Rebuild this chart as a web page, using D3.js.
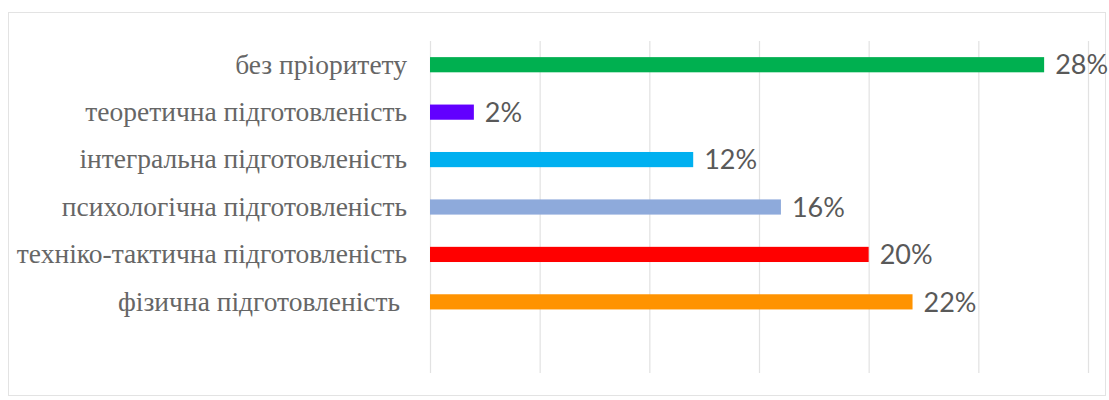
<!DOCTYPE html>
<html>
<head>
<meta charset="utf-8">
<script src="https://cdn.jsdelivr.net/npm/d3@7"></script>
<style>
  html, body { margin: 0; padding: 0; background: #fff; }
  .cat { font-family: "Liberation Serif", "Times New Roman", "DejaVu Serif", serif; }
  .val { font-family: Lato, "Open Sans", sans-serif; }
</style>
</head>
<body>
<svg></svg>
<script>
// categories top to bottom; the last one is an empty slot Excel left at the bottom
const categories = [
    "без пріоритету",
    "теоретична підготовленість",
    "інтегральна підготовленість",
    "психологічна підготовленість",
    "техніко-тактична підготовленість",
    "фізична підготовленість ",
    ""
];
const values = [28, 2, 12, 16, 20, 22, null];
const colors = ["#00b050", "#6200ff", "#00b0f0", "#8eaadb", "#ff0000", "#ff9300", "none"];
const xTicks = [0, 5, 10, 15, 20, 25, 30];

const width = 1109;
const height = 400;

const svg = d3.select("svg")
    .attr("width", width)
    .attr("height", height);

// chart frame
svg.append("rect")
    .attr("x", 8.5)
    .attr("y", 12.5)
    .attr("width", 1097)
    .attr("height", 383)
    .attr("fill", "#fff")
    .attr("stroke", "#e3e3e3");

const xScale = d3.scaleLinear()
    .domain([0, 30])
    .range([430, 1088]);

const yScale = d3.scaleBand()
    .domain(d3.range(categories.length))
    .range([41, 373])
    .paddingInner(0.68)
    .paddingOuter(0.34);

// vertical gridlines
svg.append("g")
    .selectAll("line")
    .data(xTicks)
    .enter()
    .append("line")
    .attr("x1", d => xScale(d) + 0.5)
    .attr("x2", d => xScale(d) + 0.5)
    .attr("y1", 41)
    .attr("y2", 373)
    .attr("stroke", "#e2e2e2")
    .attr("stroke-width", 1.2);

const rows = categories.map((c, i) => ({ name: c, value: values[i], color: colors[i], i }))
    .filter(d => d.value !== null);

svg.selectAll(".bar")
    .data(rows)
    .enter()
    .append("rect")
    .attr("class", "bar")
    .attr("x", xScale(0))
    .attr("y", d => yScale(d.i))
    .attr("width", d => xScale(d.value) - xScale(0))
    .attr("height", yScale.bandwidth())
    .attr("fill", d => d.color);

// category labels (serif, right aligned to the axis)
svg.selectAll(".cat")
    .data(rows)
    .enter()
    .append("text")
    .attr("class", "cat")
    .attr("x", 407)
    .attr("y", d => yScale(d.i) + yScale.bandwidth() / 2)
    .attr("dy", "0.32em")
    .attr("text-anchor", "end")
    .attr("font-size", 27.5)
    .attr("fill", "#666")
    .style("white-space", "pre")
    .text(d => d.name);

// value labels
svg.selectAll(".val")
    .data(rows)
    .enter()
    .append("text")
    .attr("class", "val")
    .attr("x", d => xScale(d.value) + 11)
    .attr("y", d => yScale(d.i) + yScale.bandwidth() / 2)
    .attr("dy", "0.36em")
    .attr("font-size", 27)
    .attr("fill", "#595959")
    .text(d => d.value + "%");
</script>
</body>
</html>
